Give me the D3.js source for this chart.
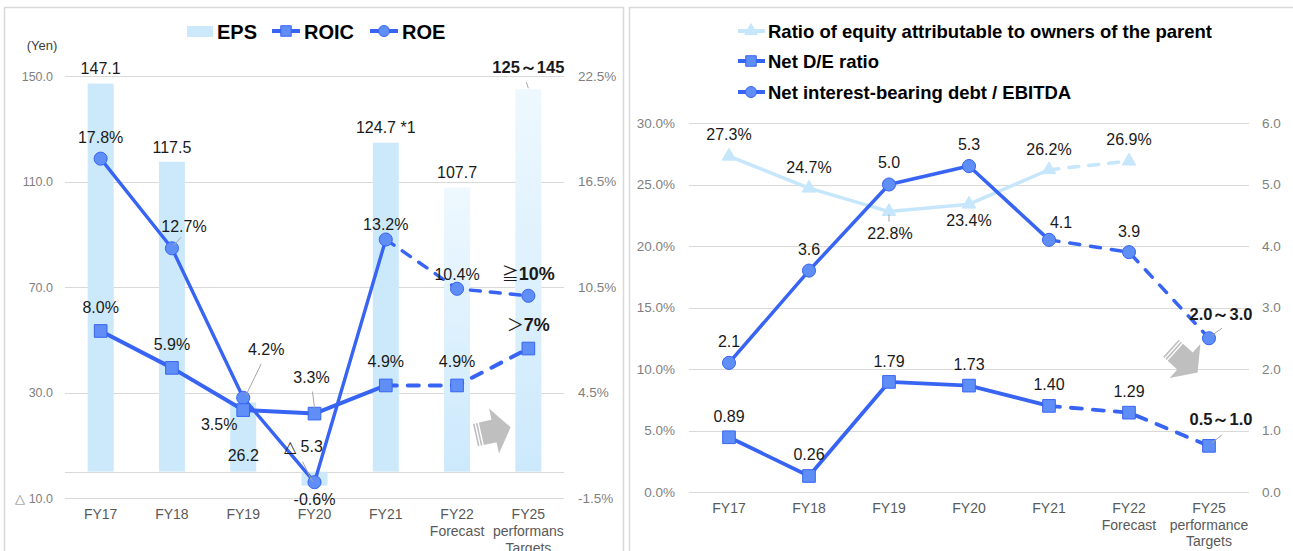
<!DOCTYPE html>
<html><head><meta charset="utf-8">
<script src="https://cdn.jsdelivr.net/npm/d3@7"></script>
<style>
body{margin:0;background:#fff;}
svg text{font-family:"Liberation Sans",Arial,sans-serif;}
</style></head>
<body><svg id="chart" width="1293" height="551"></svg>
<script>
// ---------- DATA (left chart) ----------
const catsLeft = [["FY17"],["FY18"],["FY19"],["FY20"],["FY21"],["FY22","Forecast"],["FY25","performans","Targets"]];
const eps = [147.1,117.5,26.2,-5.3,124.7,107.7,145];
const epsLabels = ["147.1","117.5","26.2","△ 5.3","124.7 *1","107.7","125～145"];
const roic = [8.0,5.9,3.5,3.3,4.9,4.9,7.0];
const roicLabels = ["8.0%","5.9%","3.5%","3.3%","4.9%","4.9%","＞7%"];
const roe = [17.8,12.7,4.2,-0.6,13.2,10.4,10.0];
const roeLabels = ["17.8%","12.7%","4.2%","-0.6%","13.2%","10.4%","≧10%"];
const yenTicks = [150,110,70,30,-10];
const yenTickLabels = ["150.0","110.0","70.0","30.0","△ 10.0"];
const pctTicksL = [22.5,16.5,10.5,4.5,-1.5];
const pctTickLabelsL = ["22.5%","16.5%","10.5%","4.5%","-1.5%"];

// ---------- DATA (right chart) ----------
const catsRight = [["FY17"],["FY18"],["FY19"],["FY20"],["FY21"],["FY22","Forecast"],["FY25","performance","Targets"]];
const equityRatio = [27.3,24.7,22.8,23.4,26.2,26.9,null];
const equityLabels = ["27.3%","24.7%","22.8%","23.4%","26.2%","26.9%",""];
const netDE = [0.89,0.26,1.79,1.73,1.40,1.29,0.75];
const netDELabels = ["0.89","0.26","1.79","1.73","1.40","1.29","0.5～1.0"];
const debtEbitda = [2.1,3.6,5.0,5.3,4.1,3.9,2.5];
const debtEbitdaLabels = ["2.1","3.6","5.0","5.3","4.1","3.9","2.0～3.0"];
const pctTicksR = [0,5,10,15,20,25,30];
const ratioTicksR = [0,1,2,3,4,5,6];

// ---------- LAYOUT (label offsets: [dx, dy, leader?]) ----------
const epsLabelPos = [[0,-10],[0,-9],[0,58],[-11,-34,[-2,-4,-12,-24]],[0,-10],[0,-10],[0,-16,[0,-1,-2,-7]]];
const roeLabelPos = [[0,-16],[12,-16,[2,-3,9,-11]],[23,-43,[3,-3,18,-34]],[0,23],[0,-10],[0,-9],[0,-16]];
const roicLabelPos = [[0,-18],[0,-18],[-24,20],[-3,-31,[0,-6,-2,-22]],[0,-18],[0,-18],[0,-18]];
const eqLabelPos = [[0,-16],[0,-15],[1,27,[0,3,0,10]],[0,22],[0,-15],[0,-16],[0,0]];
const deLabelPos = [[0,-15],[0,-16],[0,-15],[0,-16],[0,-16],[0,-16],[12,-21,[3,-3,13,-11]]];
const deLabelPos2 = [[0,-16],[0,-16],[0,-17],[0,-16],[12,-12],[0,-15],[12,-18,[3,-3,13,-10]]];

const svg = d3.select("#chart");
const BLUE = "#3864f4", MARK = "#5f8ff6", BAR = "#cce9fc", EQ = "#c6e6fb";
const GRID = "#d9d9d9", TICK = "#7f7f7f", CAT = "#595959", TXT = "#1a1a1a";

// gradient for forecast bars
const defs = svg.append("defs");
const grad = defs.append("linearGradient").attr("id","fgrad").attr("x1",0).attr("y1",0).attr("x2",0).attr("y2",1);
grad.append("stop").attr("offset","0%").attr("stop-color","#eef8fe");
grad.append("stop").attr("offset","100%").attr("stop-color",BAR);

// panels
svg.append("rect").attr("x",4.5).attr("y",7.5).attr("width",619).attr("height",560).attr("fill","none").attr("stroke",GRID).attr("stroke-width",1.5);
svg.append("rect").attr("x",629.5).attr("y",7.5).attr("width",680).attr("height",560).attr("fill","none").attr("stroke",GRID).attr("stroke-width",1.5);

function drawLine(g, xf, yf, vals, split, width, color, dash) {
  const pts = vals.map((v,i)=> v==null?null:[xf(i), yf(v)]);
  const line = d3.line().defined(d=>d!=null);
  const solid = pts.map((p,i)=> i<=split ? p : null);
  const dashed = pts.map((p,i)=> i>=split ? p : null);
  g.append("path").attr("d", line(solid)).attr("fill","none").attr("stroke",color).attr("stroke-width",width).attr("stroke-linejoin","round");
  g.append("path").attr("d", line(dashed)).attr("fill","none").attr("stroke",color).attr("stroke-width",width).attr("stroke-dasharray",dash).attr("stroke-linecap","round");
}
function drawMarkers(g, xf, yf, vals, type, size, fill, stroke) {
  const sym = d3.symbol().type(type).size(size);
  vals.forEach((v,i)=>{ if(v==null) return;
    g.append("path").attr("d", sym()).attr("transform",`translate(${xf(i)},${yf(v)})`)
     .attr("fill",fill).attr("stroke",stroke).attr("stroke-width",1);
  });
}
function drawLabels(g, xf, yf, vals, labels, pos, opts) {
  vals.forEach((v,i)=>{ if(v==null || !labels[i]) return;
    const px = xf(i), py = yf(v), p = pos[i];
    if (p[2]) {
      g.append("line").attr("x1",px+p[2][0]).attr("y1",py+p[2][1]).attr("x2",px+p[2][2]).attr("y2",py+p[2][3])
       .attr("stroke","#a6a6a6").attr("stroke-width",1);
    }
    const t = g.append("text").attr("x",px+p[0]).attr("y",py+p[1]).attr("text-anchor","middle")
      .attr("font-size",16).attr("fill",TXT);
    const lab = labels[i];
    const bold = opts && opts.boldLast && i===vals.length-1;
    if (bold) {
      const first = lab[0];
      if (first==="≧" || first==="＞") {
        t.attr("font-size",18);
        t.append("tspan").attr("font-family","Noto Sans CJK JP").attr("font-size",17).text(first);
        t.append("tspan").attr("font-weight","bold").text(lab.slice(1));
      } else {
        t.attr("font-weight","bold").attr("font-size",16.5).text(lab);
      }
    } else t.text(lab);
  });
}
function catLabels(g, xf, cats, y0, lh) {
  cats.forEach((lines,i)=>{
    const t = g.append("text").attr("text-anchor","middle").attr("font-size",14).attr("fill",CAT);
    lines.forEach((s,j)=> t.append("tspan").attr("x",xf(i)).attr("y",y0+j*lh).text(s));
  });
}
function arrow(g, tx, ty, rot) {
  const a = g.append("g").attr("transform",`translate(${tx},${ty}) rotate(${rot})`).attr("fill","#bfbfbf");
  a.append("path").attr("d","M-13,-11.5L0,-11.5L0,-23L17,0L0,23L0,11.5L-13,11.5Z");
  a.append("rect").attr("x",-16).attr("y",-11.5).attr("width",1.6).attr("height",23);
  a.append("rect").attr("x",-19).attr("y",-11.5).attr("width",1.6).attr("height",23);
}

// ================= LEFT CHART =================
const L = svg.append("g");
const xL = d3.scaleBand().domain(d3.range(7)).range([65,564]).paddingInner(0.635).paddingOuter(0.3175);
const cxL = i => xL(i) + xL.bandwidth()/2;
const yYen = d3.scaleLinear().domain([-10,150]).range([498,76]);
const yPctL = d3.scaleLinear().domain([-1.5,22.5]).range([498,76]);

// gridlines
L.append("g").selectAll("line").data(yenTicks.concat([0])).join("line")
  .attr("x1",65).attr("x2",564).attr("y1",d=>Math.round(yYen(d))+0.5).attr("y2",d=>Math.round(yYen(d))+0.5)
  .attr("stroke",GRID).attr("stroke-width",1.2);

// axes
const axL = L.append("g").attr("transform","translate(56,0)")
  .call(d3.axisLeft(yYen).tickValues(yenTicks).tickSize(0).tickFormat((d,i)=>yenTickLabels[i]));
axL.select(".domain").remove();
axL.selectAll("text").attr("font-size",12.5).attr("fill",TICK).attr("font-family","Liberation Sans, Arial, sans-serif");
const axR = L.append("g").attr("transform","translate(575,0)")
  .call(d3.axisRight(yPctL).tickValues(pctTicksL).tickSize(0).tickFormat((d,i)=>pctTickLabelsL[i]));
axR.select(".domain").remove();
axR.selectAll("text").attr("font-size",13.5).attr("fill",TICK).attr("font-family","Liberation Sans, Arial, sans-serif");

L.append("text").attr("x",42).attr("y",50).attr("text-anchor","middle").attr("font-size",13).attr("fill","#404040").text("(Yen)");

// bars
L.append("g").selectAll("rect").data(eps).join("rect")
  .attr("x",(d,i)=>xL(i)).attr("width",xL.bandwidth())
  .attr("y",d=>Math.min(yYen(d),yYen(0))).attr("height",d=>Math.abs(yYen(d)-yYen(0)))
  .attr("fill",(d,i)=> i>=5 ? "url(#fgrad)" : BAR);

arrow(L, 494, 431, -12.5);

// lines
drawLine(L, cxL, yPctL, roe, 4, 3.4, BLUE, "10,10");
drawLine(L, cxL, yPctL, roic, 4, 4, BLUE, "11,11");
drawMarkers(L, cxL, yPctL, roe, d3.symbolCircle, 135, MARK, BLUE);
drawMarkers(L, cxL, yPctL, roic, d3.symbolSquare, 160, MARK, BLUE);

// labels
drawLabels(L, cxL, yYen, eps, epsLabels, epsLabelPos, {boldLast:true});
drawLabels(L, cxL, yPctL, roe, roeLabels, roeLabelPos, {boldLast:true});
drawLabels(L, cxL, yPctL, roic, roicLabels, roicLabelPos, {boldLast:true});

catLabels(L, cxL, catsLeft, 519, 17);

// legend left
const lg = L.append("g");
lg.append("rect").attr("x",187).attr("y",26).attr("width",26).attr("height",11).attr("fill",BAR);
lg.append("text").attr("x",217).attr("y",38.5).attr("font-size",20).attr("font-weight","bold").attr("fill","#000").text("EPS");
lg.append("line").attr("x1",272).attr("x2",300).attr("y1",31).attr("y2",31).attr("stroke",BLUE).attr("stroke-width",4);
lg.append("path").attr("d",d3.symbol().type(d3.symbolSquare).size(110)()).attr("transform","translate(286,31)").attr("fill",MARK).attr("stroke",BLUE);
lg.append("text").attr("x",304).attr("y",38.5).attr("font-size",20).attr("font-weight","bold").attr("fill","#000").text("ROIC");
lg.append("line").attr("x1",370).attr("x2",398).attr("y1",31).attr("y2",31).attr("stroke",BLUE).attr("stroke-width",4);
lg.append("path").attr("d",d3.symbol().type(d3.symbolCircle).size(95)()).attr("transform","translate(384,31)").attr("fill",MARK).attr("stroke",BLUE);
lg.append("text").attr("x",402).attr("y",38.5).attr("font-size",20).attr("font-weight","bold").attr("fill","#000").text("ROE");

// ================= RIGHT CHART =================
const R = svg.append("g");
const xR = d3.scalePoint().domain(d3.range(7)).range([689,1249]).padding(0.5);
const cxR = i => xR(i);
const yPctR = d3.scaleLinear().domain([0,30]).range([492,123]);
const yRatio = d3.scaleLinear().domain([0,6]).range([492,123]);

R.append("g").selectAll("line").data(pctTicksR).join("line")
  .attr("x1",689).attr("x2",1249).attr("y1",d=>Math.round(yPctR(d))+0.5).attr("y2",d=>Math.round(yPctR(d))+0.5)
  .attr("stroke",GRID).attr("stroke-width",1.2);

const axRL = R.append("g").attr("transform","translate(678,0)")
  .call(d3.axisLeft(yPctR).tickValues(pctTicksR).tickSize(0).tickFormat(d=>d.toFixed(1)+"%"));
axRL.select(".domain").remove();
axRL.selectAll("text").attr("font-size",13.5).attr("fill",TICK).attr("font-family","Liberation Sans, Arial, sans-serif");
const axRR = R.append("g").attr("transform","translate(1259,0)")
  .call(d3.axisRight(yRatio).tickValues(ratioTicksR).tickSize(0).tickFormat(d=>d.toFixed(1)));
axRR.select(".domain").remove();
axRR.selectAll("text").attr("font-size",13.5).attr("fill",TICK).attr("font-family","Liberation Sans, Arial, sans-serif");

arrow(R, 1185, 361, 42);

drawLine(R, cxR, yPctR, equityRatio, 4, 3.5, EQ, "10,10");
drawMarkers(R, cxR, yPctR, equityRatio, d3.symbolTriangle, 80, EQ, EQ);
drawLine(R, cxR, yRatio, debtEbitda, 4, 3.5, BLUE, "10,11");
drawLine(R, cxR, yRatio, netDE, 4, 3.8, BLUE, "11,11");
drawMarkers(R, cxR, yRatio, debtEbitda, d3.symbolCircle, 135, MARK, BLUE);
drawMarkers(R, cxR, yRatio, netDE, d3.symbolSquare, 160, MARK, BLUE);

drawLabels(R, cxR, yPctR, equityRatio, equityLabels, eqLabelPos, {});
drawLabels(R, cxR, yRatio, debtEbitda, debtEbitdaLabels, deLabelPos2, {boldLast:true});
drawLabels(R, cxR, yRatio, netDE, netDELabels, deLabelPos, {boldLast:true});

catLabels(R, cxR, catsRight, 513, 16.5);

// legend right
const rg = R.append("g");
const legR = [
  {y:31, text:"Ratio of equity attributable to owners of the parent", sym:d3.symbolTriangle, col:EQ, fill:EQ, size:70},
  {y:61, text:"Net D/E ratio", sym:d3.symbolSquare, col:BLUE, fill:MARK, size:110},
  {y:92, text:"Net interest-bearing debt / EBITDA", sym:d3.symbolCircle, col:BLUE, fill:MARK, size:95}
];
legR.forEach(l=>{
  rg.append("line").attr("x1",738).attr("x2",765).attr("y1",l.y).attr("y2",l.y).attr("stroke",l.col).attr("stroke-width",4);
  rg.append("path").attr("d",d3.symbol().type(l.sym).size(l.size)()).attr("transform",`translate(751,${l.y})`).attr("fill",l.fill).attr("stroke",l.col);
  rg.append("text").attr("x",768).attr("y",l.y+6.5).attr("font-size",18.5).attr("font-weight","bold").attr("fill","#000").text(l.text);
});
</script>
</body></html>
